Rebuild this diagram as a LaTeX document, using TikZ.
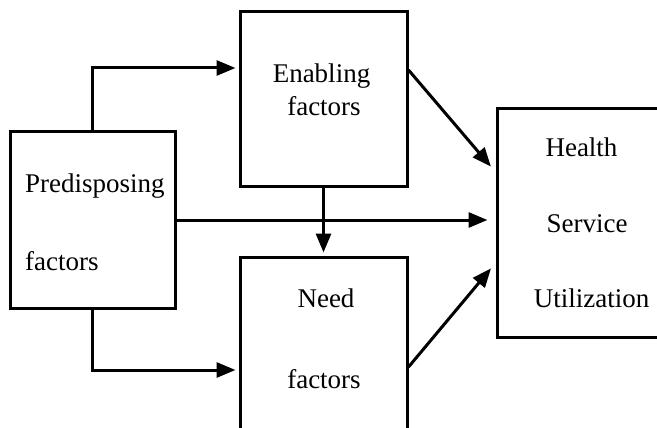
\documentclass[tikz,border=0pt]{standalone}
\usepackage{fontspec}
\setmainfont{Liberation Serif}
\usetikzlibrary{arrows.meta}

\begin{document}
\begin{tikzpicture}[x=1pt,y=-1pt,
  factorbox/.style={draw,line width=3pt,inner sep=0pt},
  flow/.style={line width=3pt,-{Triangle[length=19pt,width=15pt]},shorten >=3pt},
  lbl/.style={font=\fontsize{27}{32}\selectfont,anchor=base,inner sep=0pt}]
 \useasboundingbox (0,0) rectangle (657,428);
 \fill[white] (0,0) rectangle (657,428);

 % boxes
 \node[factorbox,minimum width=165pt,minimum height=176pt] (pre) at (92.5,220) {};
 \node[factorbox,minimum width=167pt,minimum height=174pt] (ena) at (323.5,99) {};
 \node[factorbox,minimum width=167pt,minimum height=203pt] (need) at (323.5,358.5) {};
 \node[factorbox,minimum width=203pt,minimum height=228pt] (hlth) at (598.5,223) {};

 % texts
 \node[lbl,anchor=base west] (pre1) at (25,193) {Predisposing};
 \node[lbl,anchor=base west] (pre2) at (25,270) {factors};
 \node[lbl] (ena1) at (321.5,83) {Enabling};
 \node[lbl] (ena2) at (324,116) {factors};
 \node[lbl] (need1) at (326,307) {Need};
 \node[lbl] (need2) at (324,388) {factors};
 \node[lbl] (hlth1) at (581.5,157) {Health};
 \node[lbl] (hlth2) at (587,232) {Service};
 \node[lbl] (hlth3) at (591.5,307) {Utilization};

 % arrows
 \draw[flow] (pre.north) |- ([yshift=31pt]ena.west);
 \draw[flow] (pre.south) |- ([yshift=-11.5pt]need.west);
 \draw[flow,shorten >=8pt] (pre.east) -- (pre.east -| hlth.west);
 \draw[flow] (ena.south) -- (ena.south |- need.north);
 \draw[flow,shorten >=7pt] ([yshift=29pt]ena.east) -- ([yshift=51pt]hlth.west);
 \draw[flow,shorten >=7pt] ([yshift=-8.5pt]need.east) -- ([yshift=-40pt]hlth.west);
\end{tikzpicture}
\end{document}
